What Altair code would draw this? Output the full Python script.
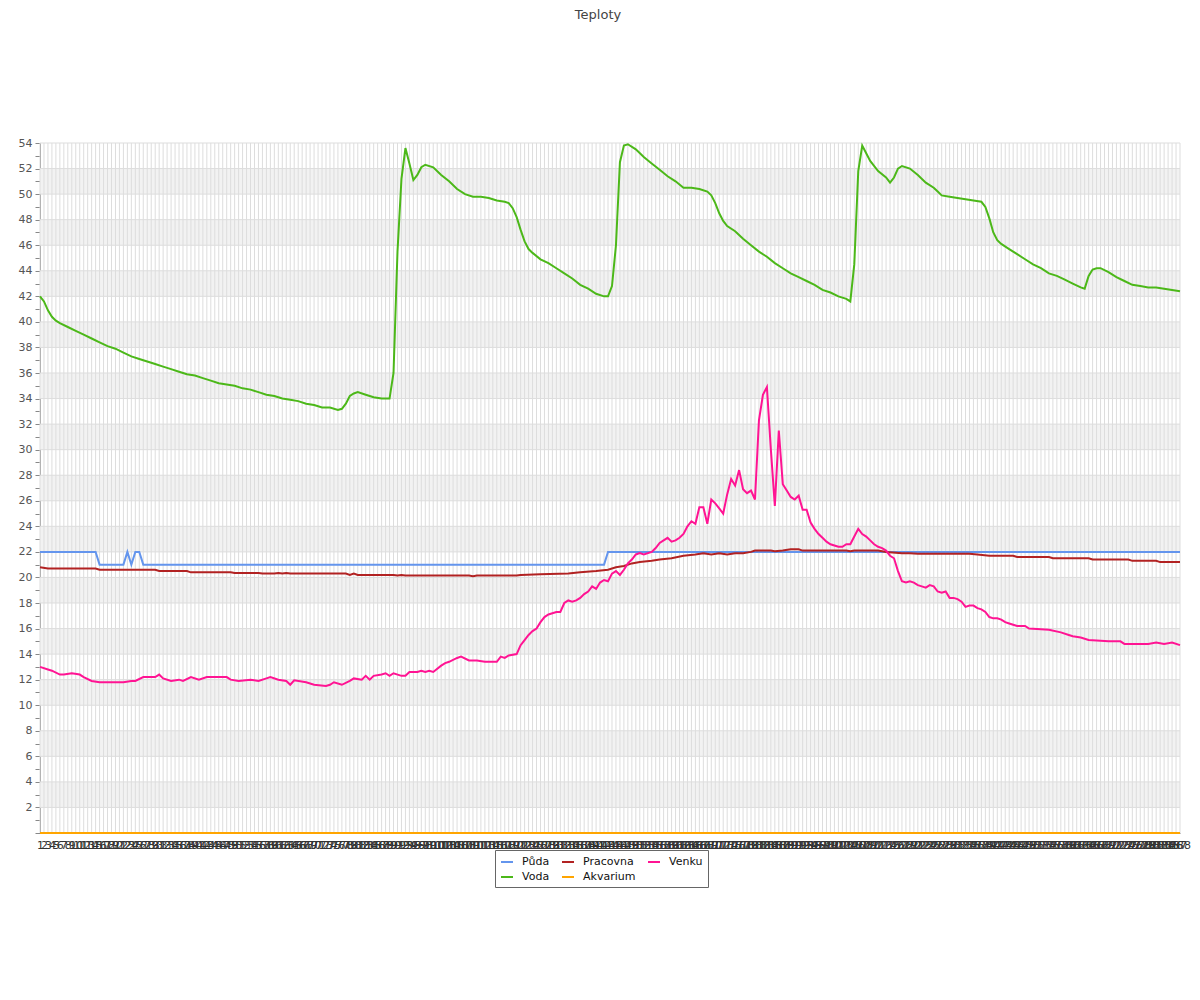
import altair as alt
import pandas as pd

# ---------------- data ----------------
categories = list(range(1, 289))          # x tick labels 1..288
# legend order (Vega fills the 3-column legend column by column)
series_names = ["Půda", "Voda", "Pracovna", "Akvarium", "Venku"]
series_colors = ["#6495ed", "#4cb819", "#b22222", "#ffa500", "#ff1493"]

puda_i = [1, 15, 16, 22, 23, 24, 25, 26, 27, 143, 144, 288]
puda_v = [22, 22, 21, 21, 22, 21, 22, 22, 21, 21, 22, 22]

pracovna_i = [1, 3, 15, 16, 30, 31, 38, 39, 49, 50, 56, 57, 60, 61, 62, 63, 64, 78, 79, 80, 81,
              90, 91, 92, 93, 109, 110, 111, 121, 122, 127, 134, 137, 141, 144, 146, 148, 150,
              152, 155, 157, 160, 163, 166, 168, 170, 172, 174, 176, 178, 180, 181, 185, 186,
              188, 190, 192, 193, 204, 205, 206, 212, 214, 218, 220, 222, 235, 237, 240, 246,
              247, 255, 256, 265, 266, 275, 276, 282, 283, 288]
pracovna_v = [20.8, 20.7, 20.7, 20.6, 20.6, 20.5, 20.5, 20.4, 20.4, 20.35, 20.35, 20.3, 20.3,
              20.35, 20.3, 20.35, 20.3, 20.3, 20.2, 20.3, 20.2, 20.2, 20.15, 20.2, 20.15, 20.15,
              20.1, 20.15, 20.15, 20.2, 20.25, 20.3, 20.4, 20.5, 20.6, 20.8, 20.9, 21.1, 21.2,
              21.3, 21.4, 21.5, 21.7, 21.8, 21.9, 21.8, 21.9, 21.8, 21.9, 21.9, 22.0, 22.1, 22.1,
              22.05, 22.1, 22.2, 22.2, 22.1, 22.1, 22.05, 22.1, 22.1, 22.0, 21.9, 21.9, 21.85,
              21.85, 21.8, 21.7, 21.7, 21.6, 21.6, 21.5, 21.5, 21.4, 21.4, 21.3, 21.3, 21.2, 21.2]

venku_i = [1, 3, 4, 6, 7, 9, 11, 12, 14, 16, 19, 21, 22, 24, 25, 27, 30, 31, 32, 34, 36, 37, 39,
           41, 43, 45, 48, 49, 51, 54, 56, 58, 59, 61, 63, 64, 65, 68, 70, 73, 74, 75, 77, 79,
           80, 82, 83, 84, 85, 87, 88, 89, 90, 92, 93, 94, 95, 96, 97, 98, 99, 100, 102, 103,
           104, 106, 107, 109, 111, 113, 116, 117, 118, 119, 121, 122, 123, 124, 125, 126, 127,
           128, 129, 131, 132, 133, 134, 135, 136, 137, 138, 139, 140, 141, 142, 143, 144, 145,
           146, 147, 148, 149, 150, 151, 152, 153, 155, 156, 157, 158, 159, 160, 161, 162, 163,
           164, 165, 166, 167, 168, 169, 170, 171, 172, 173, 174, 175, 176, 177, 178, 179, 180,
           181, 182, 183, 184, 185, 186, 187, 188, 189, 190, 191, 192, 193, 194, 195, 196, 197,
           198, 199, 200, 201, 202, 203, 204, 205, 206, 207, 208, 209, 210, 211, 212, 213, 214,
           215, 216, 217, 218, 219, 220, 221, 222, 223, 224, 225, 226, 227, 228, 229, 230, 231,
           232, 233, 234, 235, 236, 237, 238, 239, 240, 241, 242, 243, 244, 245, 246, 247, 249,
           250, 253, 255, 258, 260, 261, 263, 265, 268, 270, 273, 274, 278, 280, 282, 284, 286,
           288]
venku_v = [13.0, 12.8, 12.7, 12.4, 12.4, 12.5, 12.4, 12.2, 11.9, 11.8, 11.8, 11.8, 11.8, 11.9,
           11.9, 12.2, 12.2, 12.4, 12.1, 11.9, 12.0, 11.9, 12.2, 12.0, 12.2, 12.2, 12.2, 12.0,
           11.9, 12.0, 11.9, 12.1, 12.2, 12.0, 11.9, 11.6, 11.95, 11.8, 11.6, 11.5, 11.6, 11.8,
           11.6, 11.9, 12.1, 12.0, 12.3, 12.0, 12.3, 12.4, 12.5, 12.3, 12.5, 12.3, 12.3, 12.6,
           12.6, 12.6, 12.7, 12.6, 12.7, 12.6, 13.1, 13.3, 13.4, 13.7, 13.8, 13.5, 13.5, 13.4,
           13.4, 13.8, 13.7, 13.9, 14.0, 14.7, 15.1, 15.5, 15.8, 16.0, 16.5, 16.9, 17.1, 17.3,
           17.3, 18.0, 18.2, 18.1, 18.2, 18.4, 18.7, 18.9, 19.3, 19.1, 19.6, 19.8, 19.7, 20.3,
           20.5, 20.2, 20.6, 21.1, 21.4, 21.8, 21.9, 21.8, 22.0, 22.3, 22.7, 22.9, 23.1, 22.8,
           22.9, 23.1, 23.4, 24.0, 24.4, 24.2, 25.5, 25.5, 24.2, 26.1, 25.8, 25.4, 25.0, 26.5,
           27.7, 27.2, 28.4, 26.9, 26.6, 26.8, 26.1, 32.3, 34.3, 34.9, 30.0, 25.6, 31.5, 27.3,
           26.8, 26.3, 26.1, 26.4, 25.3, 25.3, 24.3, 23.8, 23.4, 23.1, 22.8, 22.6, 22.5, 22.4,
           22.4, 22.6, 22.6, 23.2, 23.8, 23.4, 23.2, 22.9, 22.6, 22.4, 22.3, 22.1, 21.7, 21.5,
           20.5, 19.7, 19.6, 19.7, 19.6, 19.4, 19.3, 19.2, 19.4, 19.3, 18.9, 18.8, 18.9, 18.4,
           18.4, 18.3, 18.1, 17.7, 17.8, 17.8, 17.6, 17.5, 17.3, 16.9, 16.8, 16.8, 16.7, 16.5,
           16.4, 16.3, 16.2, 16.2, 16.0, 15.95, 15.9, 15.7, 15.5, 15.4, 15.3, 15.1, 15.05, 15.0,
           15.0, 14.8, 14.8, 14.8, 14.9, 14.8, 14.9, 14.7]

voda_i = [1, 2, 3, 4, 5, 6, 8, 10, 12, 14, 16, 18, 20, 22, 24, 26, 28, 30, 32, 34, 36, 38, 40,
          42, 44, 46, 48, 50, 52, 54, 56, 58, 60, 62, 64, 66, 68, 70, 72, 74, 76, 77, 78, 79, 80,
          81, 83, 85, 87, 89, 90, 91, 92, 93, 94, 95, 96, 97, 98, 100, 102, 104, 106, 108, 110,
          112, 114, 116, 118, 119, 120, 121, 122, 123, 124, 125, 127, 129, 131, 133, 135, 137,
          139, 141, 143, 144, 145, 146, 147, 148, 149, 151, 153, 155, 157, 159, 161, 163, 165,
          167, 169, 170, 171, 172, 173, 174, 176, 178, 180, 182, 184, 186, 188, 190, 192, 194,
          196, 198, 200, 202, 204, 205, 206, 207, 208, 209, 210, 212, 214, 215, 216, 217, 218,
          220, 222, 224, 226, 227, 228, 230, 232, 234, 236, 238, 239, 240, 241, 242, 243, 245,
          247, 249, 251, 253, 255, 257, 259, 261, 263, 264, 265, 266, 267, 268, 270, 272, 274,
          276, 278, 280, 282, 284, 286, 288]
voda_v = [42.0, 41.6, 40.9, 40.4, 40.1, 39.9, 39.6, 39.3, 39.0, 38.7, 38.4, 38.1, 37.9, 37.6,
          37.3, 37.1, 36.9, 36.7, 36.5, 36.3, 36.1, 35.9, 35.8, 35.6, 35.4, 35.2, 35.1, 35.0,
          34.8, 34.7, 34.5, 34.3, 34.2, 34.0, 33.9, 33.8, 33.6, 33.5, 33.3, 33.3, 33.1, 33.2,
          33.6, 34.2, 34.4, 34.5, 34.3, 34.1, 34.0, 34.0, 36.0, 45.5, 51.2, 53.6, 52.4, 51.1,
          51.5, 52.1, 52.3, 52.1, 51.5, 51.0, 50.4, 50.0, 49.8, 49.8, 49.7, 49.5, 49.4, 49.3,
          48.9, 48.2, 47.2, 46.3, 45.7, 45.4, 44.9, 44.6, 44.2, 43.8, 43.4, 42.9, 42.6, 42.2,
          42.0, 42.0, 42.8, 46.0, 52.5, 53.8, 53.9, 53.5, 52.9, 52.4, 51.9, 51.4, 51.0, 50.5,
          50.5, 50.4, 50.2, 49.9, 49.3, 48.5, 47.9, 47.5, 47.1, 46.5, 46.0, 45.5, 45.1, 44.6,
          44.2, 43.8, 43.5, 43.2, 42.9, 42.5, 42.3, 42.0, 41.8, 41.6, 44.5, 51.8, 53.8, 53.2,
          52.6, 51.8, 51.3, 50.9, 51.3, 52.0, 52.2, 52.0, 51.5, 50.9, 50.5, 50.2, 49.9, 49.8,
          49.7, 49.6, 49.5, 49.4, 49.0, 48.1, 47.0, 46.4, 46.1, 45.7, 45.3, 44.9, 44.5, 44.2,
          43.8, 43.6, 43.3, 43.0, 42.7, 42.6, 43.6, 44.1, 44.2, 44.2, 43.9, 43.5, 43.2, 42.9,
          42.8, 42.7, 42.7, 42.6, 42.5, 42.4]

akvarium_i = [1, 288]
akvarium_v = [0, 0]

band_lo = [2, 6, 10, 14, 18, 22, 26, 30, 34, 38, 42, 46, 50]
band_hi = [4, 8, 12, 16, 20, 24, 28, 32, 36, 40, 44, 48, 52]
hgrid_vals = [2, 4, 6, 8, 10, 12, 14, 16, 18, 20, 22, 24, 26, 28, 30, 32, 34, 36, 38, 40, 42, 44,
              46, 48, 50, 52, 54]
y_tick_vals = list(range(0, 55))

# ---------------- tables ----------------
rows = []
for name, xs, ys in [("Půda", puda_i, puda_v), ("Pracovna", pracovna_i, pracovna_v),
                     ("Venku", venku_i, venku_v), ("Voda", voda_i, voda_v),
                     ("Akvarium", akvarium_i, akvarium_v)]:
    for a, b in zip(xs, ys):
        rows.append({"series": name, "i": a, "t": b})
lines_df = pd.DataFrame(rows)
bands_df = pd.DataFrame({"lo": band_lo, "hi": band_hi})
vgrid_df = pd.DataFrame({"i": categories})
hgrid_df = pd.DataFrame({"t": hgrid_vals})

FONT = "DejaVu Sans"
xscale = alt.Scale(domain=[1, 288], nice=False, zero=False)
yscale = alt.Scale(domain=[0, 54], nice=False, zero=False)
xaxis = alt.Axis(values=categories, format="d", labelAngle=0, labelOverlap=False,
                 labelFlush=False, labelBound=False, ticks=False, grid=False, title=None,
                 labelFontSize=11, labelColor="#333", labelPadding=6, domainColor="#888")
yaxis = alt.Axis(values=y_tick_vals, grid=False, title=None,
                 labelExpr="datum.value % 2 == 0 && datum.value > 0 ? datum.label : ''",
                 labelFontSize=11, labelColor="#555", tickSize=5, tickColor="#888",
                 domainColor="#888", labelPadding=3)

bands = alt.Chart(bands_df).mark_rect(color="#f2f2f2").encode(
    y=alt.Y("lo:Q", scale=yscale, axis=yaxis),
    y2="hi:Q",
    x=alt.value(0), x2=alt.value(1140),
)
vgrid = alt.Chart(vgrid_df).mark_rule(color="#dddddd", strokeWidth=1).encode(
    x=alt.X("i:Q", scale=xscale, axis=xaxis),
)
hgrid = alt.Chart(hgrid_df).mark_rule(color="#dddddd", strokeWidth=1).encode(
    y=alt.Y("t:Q", scale=yscale, axis=yaxis),
)
lines = alt.Chart(lines_df).mark_line(strokeWidth=2).encode(
    x=alt.X("i:Q", scale=xscale, axis=xaxis),
    y=alt.Y("t:Q", scale=yscale, axis=yaxis),
    color=alt.Color("series:N",
                    scale=alt.Scale(domain=series_names, range=series_colors),
                    sort=series_names,
                    legend=alt.Legend(title=None, orient="none", legendX=455, legendY=707,
                                      columns=3, columnPadding=8, rowPadding=3,
                                      symbolType="stroke", symbolSize=144,
                                      symbolStrokeWidth=2, labelFontSize=11,
                                      labelColor="#111", labelOffset=8, padding=5,
                                      strokeColor="#666", fillColor="white")),
    order=alt.Order("i:Q"),
)

chart = alt.layer(bands, vgrid, hgrid, lines).properties(
    width=1140, height=690,
    autosize=alt.AutoSizeParams(type="none"),
    padding={"left": 32, "top": 135, "right": 12, "bottom": 150},
    title=alt.TitleParams("Teploty", fontSize=13, fontWeight="normal", color="#444",
                          font=FONT, anchor="middle", dx=-12, offset=115),
).configure_view(stroke=None).configure_axis(
    labelFont=FONT
).configure_legend(labelFont=FONT)

chart.save("out.html", embed_options={"renderer": "svg", "actions": False})
